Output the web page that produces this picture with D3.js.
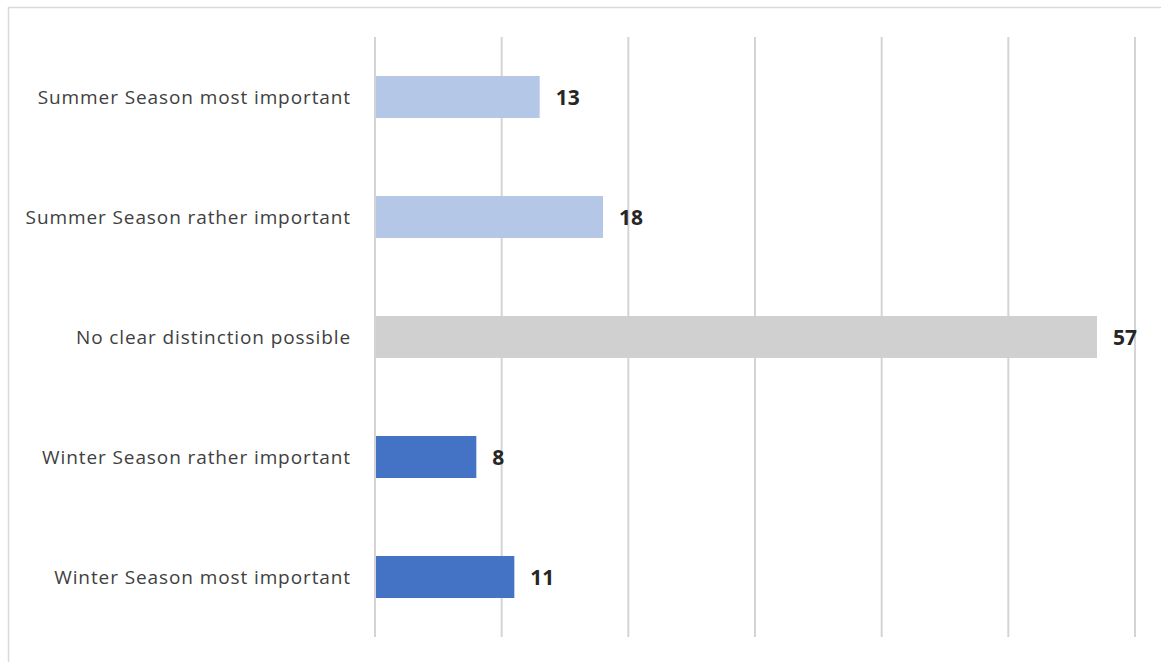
<!DOCTYPE html>
<html>
<head>
<meta charset="utf-8">
<script src="https://cdn.jsdelivr.net/npm/d3@7"></script>
<style>
  body { margin: 0; background: #fff; }
  svg { display: block; }
</style>
</head>
<body>
<div id="chart"></div>
<script>
const categories = [
  "Summer Season most important",
  "Summer Season rather important",
  "No clear distinction possible",
  "Winter Season rather important",
  "Winter Season most important"
];
const values = [13, 18, 57, 8, 11];
const barColors = ["#b4c7e7", "#b4c7e7", "#d0d0d0", "#4472c4", "#4472c4"];
const xTicks = [0, 10, 20, 30, 40, 50, 60];

const width = 1161, height = 662;
const svg = d3.select("#chart").append("svg")
  .attr("width", width)
  .attr("height", height);

// chart frame (runs off the right / bottom edge like the source)
svg.append("rect")
  .attr("x", 8.5).attr("y", 7.5)
  .attr("width", 1170).attr("height", 680)
  .attr("fill", "none")
  .attr("stroke", "#d9d9d9")
  .attr("stroke-width", 1.5);

const x = d3.scaleLinear().domain([0, 60]).range([375, 1135]);
const y = d3.scaleBand().domain(categories).range([37, 637]).paddingInner(0.65).paddingOuter(0.325);

// gridlines
svg.append("g")
  .selectAll("line")
  .data(xTicks)
  .enter()
  .append("line")
  .attr("x1", d => x(d)).attr("x2", d => x(d))
  .attr("y1", 37).attr("y2", 637)
  .attr("stroke", "#d4d4d4")
  .attr("stroke-width", 2);

// bars
svg.append("g")
  .selectAll("rect")
  .data(values)
  .enter()
  .append("rect")
  .attr("x", x(0) + 1)
  .attr("y", (d, i) => y(categories[i]))
  .attr("width", d => x(d) - x(0) - 1)
  .attr("height", y.bandwidth())
  .attr("fill", (d, i) => barColors[i]);

// category labels
svg.append("g")
  .selectAll("text")
  .data(categories)
  .enter()
  .append("text")
  .attr("x", 351)
  .attr("y", d => y(d) + y.bandwidth() / 2)
  .attr("dy", "0.35em")
  .attr("text-anchor", "end")
  .attr("fill", "#404040")
  .style("font-family", "'Open Sans', 'Noto Sans', sans-serif")
  .style("font-size", "19px")
  .style("letter-spacing", "0.9px")
  .text(d => d);

// value labels
svg.append("g")
  .selectAll("text")
  .data(values)
  .enter()
  .append("text")
  .attr("x", d => x(d) + 16)
  .attr("y", (d, i) => y(categories[i]) + y.bandwidth() / 2)
  .attr("dy", "0.36em")
  .attr("fill", "#262626")
  .style("font-family", "'Open Sans', 'Noto Sans', sans-serif")
  .style("font-weight", "bold")
  .style("font-size", "21px")
  .text(d => d);
</script>
</body>
</html>
